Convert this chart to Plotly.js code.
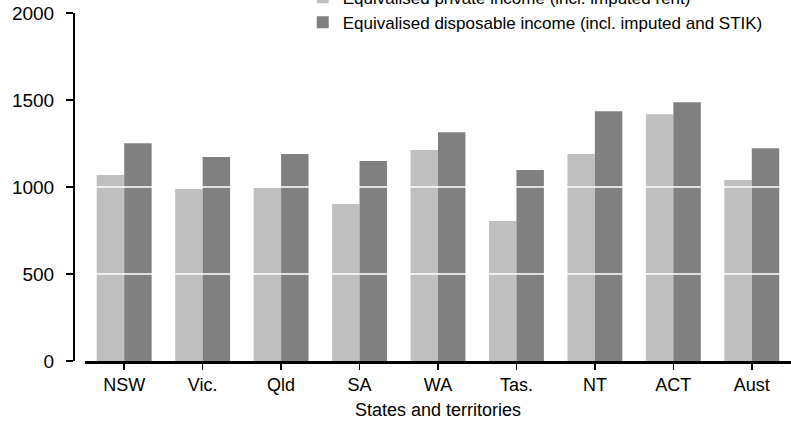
<!DOCTYPE html>
<html>
<head>
<meta charset="utf-8">
<script src="https://cdn.plot.ly/plotly-3.0.1.min.js"></script>
<style>html,body{margin:0;padding:0;background:#fff;}#chart{width:791px;height:421px;}</style>
</head>
<body>
<div id="chart"></div>
<script>
const categories = ["NSW", "Vic.", "Qld", "SA", "WA", "Tas.", "NT", "ACT", "Aust"];
const privateIncome = [1069, 988, 994, 903, 1212, 805, 1189, 1418, 1040];
const disposableIncome = [1252, 1172, 1189, 1149, 1315, 1097, 1435, 1487, 1223];
const seriesNames = [
  "Equivalised private income (incl. imputed rent)",
  "Equivalised disposable income (incl. imputed and STIK)"
];
const yTicks = [0, 500, 1000, 1500, 2000];
const gridValues = [500, 1000, 1500];

const FONT = "Liberation Sans, Arial, sans-serif";
const xStart = 0.0153;

const traces = [
  {type: "bar", name: seriesNames[0], x: categories, y: privateIncome,
   marker: {color: "#bfbfbf"}, hoverinfo: "x+y"},
  {type: "bar", name: seriesNames[1], x: categories, y: disposableIncome,
   marker: {color: "#808080"}, hoverinfo: "x+y"}
];

const shapes = gridValues.map(v => ({
  type: "line", xref: "paper", yref: "y", x0: xStart, x1: 1, y0: v, y1: v,
  line: {color: "#ffffff", width: 1.5}, layer: "above"
}));

const layout = {
  width: 791, height: 421,
  margin: {l: 74, r: 0, t: 13, b: 60, pad: 0, autoexpand: false},
  paper_bgcolor: "#ffffff", plot_bgcolor: "#ffffff",
  font: {family: FONT, color: "#000000", size: 18},
  barmode: "group", bargap: 0.3, bargroupgap: 0,
  showlegend: true,
  legend: {
    x: 0.319, xanchor: "left", y: 1.096, yanchor: "top",
    font: {family: FONT, size: 17, color: "#000"},
    bgcolor: "rgba(0,0,0,0)", tracegroupgap: 0, itemwidth: 30
  },
  xaxis: {
    domain: [xStart, 1],
    type: "category",
    showline: true, linecolor: "#000", linewidth: 2.5,
    ticks: "outside", ticklen: 6, tickwidth: 1.5, tickcolor: "#000",
    showgrid: false, zeroline: false,
    tickfont: {family: FONT, size: 18},
    title: {text: "States and territories", font: {family: FONT, size: 18}, standoff: 10}
  },
  yaxis: {
    anchor: "free", position: 0,
    range: [0, 2000],
    tickvals: yTicks, ticktext: yTicks.map(String),
    showline: true, linecolor: "#000", linewidth: 2,
    ticks: "outside", ticklen: 7, tickwidth: 1.5, tickcolor: "#000",
    ticklabelstandoff: 8,
    showgrid: false, zeroline: false,
    tickfont: {family: FONT, size: 19}
  },
  shapes: shapes
};

Plotly.newPlot("chart", traces, layout, {displayModeBar: false, staticPlot: true});
</script>
</body>
</html>
